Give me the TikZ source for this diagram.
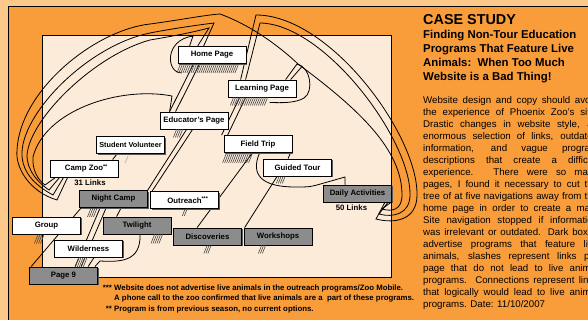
\documentclass[tikz,border=0pt]{standalone}
\usepackage{fontspec}
\setmainfont{Liberation Sans}
\usetikzlibrary{positioning,shadows}
\definecolor{zooorange}{RGB}{249,156,58}
\definecolor{zoopale}{RGB}{252,201,138}
\definecolor{zoopanel}{RGB}{253,235,218}
\definecolor{zoogrey}{RGB}{140,140,140}
\pgfdeclarelayer{panel}
\pgfdeclarelayer{links}
\pgfsetlayers{panel,links,main}
\tikzset{
  page/.style={draw=black, line width=0.8pt, minimum width=68pt, minimum height=17pt,
    inner sep=0pt, font=\fontsize{7.8}{9}\selectfont\bfseries,
    drop shadow={shadow xshift=1.3pt, shadow yshift=-1.3pt, fill=black!65, opacity=1}},
  litepage/.style={page, fill=white},
  darkpage/.style={page, fill=zoogrey},
  link/.style={line width=0.8pt},
  slash/.style={black!70, line width=0.6pt},
  note/.style={inner sep=0pt, font=\fontsize{7.8}{9}\selectfont\bfseries},
}
\newcommand\slashes[4]{%
  \foreach \s in {0,2,...,#3}
    \draw[slash] ([xshift={(#2+\s)*1pt}]#1.south west) -- ++(-0.4*#4,#4);}

\begin{document}
\begin{tikzpicture}[x=1pt, y=-1pt]
  \useasboundingbox (0,0) rectangle (588,320);
  \clip (0,0) rectangle (588,320);
  \begin{pgfonlayer}{panel}
    \fill[zoopale] (0,0) rectangle (588,320);
    \fill[zooorange] (8,6) rectangle (588,320);
    \draw[line width=0.8pt] (8,320) -- (8,6) -- (588,6);
    \filldraw[fill=zoopanel, line width=0.8pt] (42,35) rectangle (391,277);
  \end{pgfonlayer}

  \node[litepage] (home) at (212,55) {Home Page};
  \node[litepage] (learning) at (262,88.5) {Learning Page};
  \node[litepage] (educator) at (194,120.5) {Educator's Page};
  \node[litepage, font=\fontsize{7.3}{9}\selectfont\bfseries] (volunteer) at (130.5,145) {Student Volunteer};
  \node[litepage] (fieldtrip) at (258,144) {Field Trip};
  \node[litepage] (campzoo) at (84,168.5) {Camp Zoo\rlap{\textsuperscript{**}}};
  \node[note, below=2pt of campzoo, xshift=6pt] (camplinks) {31 Links};
  \node[litepage] (guided) at (297.5,167.5) {Guided Tour};
  \node[darkpage] (daily) at (357.5,193.5) {Daily Activities};
  \node[note, below=2pt of daily, xshift=-6pt] (dailylinks) {50 Links};
  \node[darkpage] (nightcamp) at (113.5,199) {Night Camp};
  \node[litepage] (outreach) at (184.5,200) {Outreach\rlap{\textsuperscript{***}}};
  \node[litepage] (group) at (46.5,225.5) {Group\hspace{14pt}};
  \node[darkpage] (twilight) at (137,225.5) {Twilight};
  \node[darkpage] (discoveries) at (207.5,236.5) {Discoveries};
  \node[darkpage] (workshops) at (278,236.5) {Workshops};
  \node[litepage] (wilderness) at (88.5,248.5) {Wilderness};
  \node[darkpage] (page9) at (63.5,275.5) {Page 9};

  \begin{pgfonlayer}{links}
    \coordinate (toppeak) at (220,14);
    \coordinate (homepeak) at (214,23);
    \coordinate (homepeakin) at (209,28);
    \coordinate (learnpeak) at (256,15);
    \coordinate (learnpeakin) at (260,23);
    \coordinate (learnloop) at (297,64);
    \coordinate (dailyflag) at (345,177);
    \draw[link] ([xshift=18pt]campzoo.south west) -- (57,200) .. controls (30,192) and (15,168) .. (17,150)
      .. controls (20,90) and (95,30) .. (150,24) .. controls (180,20) and (205,15) .. (toppeak)
      .. controls (250,25) and (278,45) .. (298,64) .. controls (360,110) and (402,150) .. (402,195)
      .. controls (402,210) and (392,212) .. (382,209) -- ([xshift=-1pt]daily.south east);
    \draw[link] ([xshift=26pt]home.north west) -- (homepeak) .. controls (190,26) and (165,30) .. (150,33)
      .. controls (90,45) and (24,110) .. (22,152) .. controls (21,175) and (40,188) .. (53,195)
      -- ([xshift=14pt]campzoo.south west);
    \draw[link] ([xshift=20pt]home.north west) -- (homepeakin) .. controls (190,33) and (168,37) .. (150,40)
      .. controls (95,55) and (30,118) .. (27,155) .. controls (27,172) and (40,184) .. (49,190)
      -- ([xshift=10pt]campzoo.south west);
    \draw[link] ([xshift=10pt]educator.north west) -- (172,96) .. controls (120,86) and (45,110) .. (33,157)
      .. controls (32,170) and (38,180) .. (45,185) -- ([xshift=6pt]campzoo.south west);
    \draw[link] ([xshift=13pt]learning.north west) -- (learnpeak) .. controls (330,15) and (418,135) .. (417,195)
      .. controls (417,220) and (395,224) .. (376,219) -- ([xshift=-7pt]daily.south east);
    \draw[link] ([xshift=18pt]learning.north west) -- (learnpeakin) .. controls (325,24) and (411,140) .. (410,195)
      .. controls (410,214) and (393,218) .. (379,214) -- ([xshift=-4pt]daily.south east);
    \draw[link] ([xshift=58pt]learning.north west) -- (learnloop) .. controls (311,67) and (314,92) .. (304,98)
      .. controls (296,103) and (282,103) .. ([xshift=42pt, yshift=-5pt]learning.south west);
    \draw[link] ([xshift=63pt]learning.north west) -- (302,66.5);
    \draw[link] ([xshift=4pt, yshift=-9pt]home.south west) .. controls (166,73) and (164,40) .. (193,36)
      -- ([xshift=12pt]home.north west);
    \draw[link] ([xshift=-3pt]outreach.north west) -- ([xshift=27pt]educator.south west);
    \draw[link] ([xshift=2pt]outreach.north west) -- ([xshift=33pt]educator.south west);
    \draw[link] ([xshift=10pt]educator.north west) -- ([xshift=16pt]home.south west);
    \draw[link] ([xshift=16pt]educator.north west) -- ([xshift=22pt]home.south west);
    \draw[link] ([xshift=-2pt]fieldtrip.north west) -- ([xshift=12pt]learning.south west);
    \draw[link] ([xshift=4pt]fieldtrip.north west) -- ([xshift=18pt]learning.south west);
    \draw[link] ([xshift=-40pt]fieldtrip.south east) -- ([xshift=24pt]discoveries.north west);
    \draw[link] ([xshift=14pt]guided.south west) -- ([xshift=1pt]workshops.north west);
    \draw[link] ([xshift=-2pt]fieldtrip.south east) -- ([xshift=25pt]guided.north west);
    \draw[link] ([xshift=36pt]fieldtrip.south west) .. controls (250,175) and (262,187) .. (295,187)
      .. controls (310,187) .. (324,183) -- (dailyflag) -- ([xshift=22pt]daily.north west);
    \draw[link] ([xshift=21pt]volunteer.south west) -- ([xshift=63pt]campzoo.north west);
    \draw[link] ([xshift=2pt]page9.north west) -- ([xshift=2pt]nightcamp.south west);
    \draw[link] ([xshift=42pt]nightcamp.south west) -- ([xshift=14pt]twilight.north west);
    \draw[link] ([xshift=21pt]nightcamp.south west) -- ([xshift=46pt]page9.north west);
    \draw[link] ([xshift=27pt]nightcamp.south west) -- ([xshift=52pt]page9.north west);
    \draw[link] ([xshift=3pt]twilight.south) .. controls (141,262) and (120,262) .. (100,261)
      -- ([xshift=-3pt]page9.north east);
    \draw[link] ([xshift=40pt]wilderness.south west) -- ([xshift=59pt]page9.north west);
  \end{pgfonlayer}

  \slashes{home}{3}{58}{9}
  \slashes{learning}{6}{34}{8}
  \slashes{educator}{17}{6}{8}
  \slashes{fieldtrip}{3}{26}{10}
  \slashes{guided}{16}{6}{7}
  \slashes{nightcamp}{12}{6}{9}
  \slashes{outreach}{35}{2}{7}
  \slashes{group}{26}{6}{9}
  \slashes{twilight}{52}{8}{9}
  \slashes{wilderness}{25}{8}{10}
  \slashes{discoveries}{34}{4}{8}
  \slashes{workshops}{18}{4}{8}
  \draw[slash, black!35] ([xshift=32pt, yshift=-2pt]volunteer.south west) -- ++(-3,7);

  \node[note, anchor=base west] (note1) at (114,290.7) {\llap{*** }Website does not advertise live animals in the outreach programs/Zoo Mobile.};
  \node[note, anchor=base west] (note2) at (114,300.7) {A phone call to the zoo confirmed that live animals are a\ \ part of these programs.};
  \node[note, anchor=base west] (note3) at (114,311.7) {\llap{** }Program is from previous season, no current options.};

  \node[anchor=base west, inner sep=0pt, font=\fontsize{14.4}{16}\selectfont\bfseries] (title) at (423,25) {CASE STUDY};
  \node[anchor=north west, align=left, inner sep=0pt, font=\fontsize{11.4}{14}\selectfont\bfseries] (subtitle) at (423,30.5)
    {Finding Non-Tour Education\\Programs That Feature Live\\Animals:\ \ When Too Much\\Website is a Bad Thing!};
  \node[anchor=north west, text width=175pt, align=justify, inner sep=0pt, font=\fontsize{9.7}{12}\selectfont] (story) at (423,96.5) {%
    \noindent Website design and copy should avoid\linebreak
    the experience of Phoenix Zoo's site.\linebreak
    Drastic changes in website style, an\linebreak
    enormous selection of links, outdated\linebreak
    information, and vague program\linebreak
    descriptions that create a difficult\linebreak
    experience.  There were so many\linebreak
    pages, I found it necessary to cut the\linebreak
    tree of at five navigations away from the\linebreak
    home page in order to create a map.\linebreak
    Site navigation stopped if information\linebreak
    was irrelevant or outdated. Dark boxes\linebreak
    advertise programs that feature live\linebreak
    animals, slashes represent links per\linebreak
    page that do not lead to live animal\linebreak
    programs.  Connections represent links\linebreak
    that logically would lead to live animal\linebreak
    programs.  Date: 11/10/2007};
\end{tikzpicture}
\end{document}
